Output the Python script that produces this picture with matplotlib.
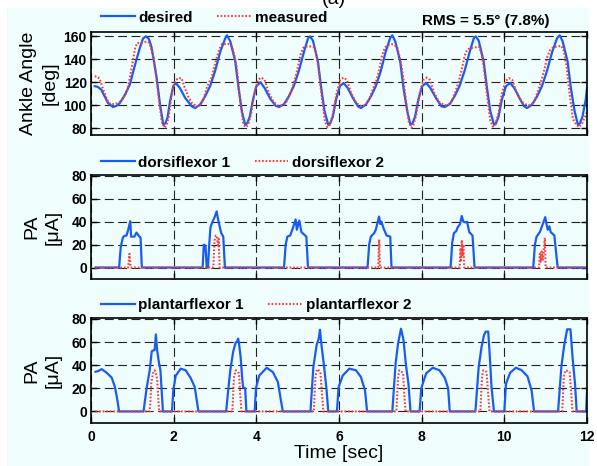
import matplotlib
matplotlib.use('Agg')
import matplotlib.pyplot as plt
from matplotlib.patches import Rectangle
from matplotlib.lines import Line2D

plt.rcParams['font.family'] = ['Liberation Sans', 'DejaVu Sans']

# ankle angle, desired (deg)
des_t = [0.09, 0.16, 0.25, 0.34, 0.41, 0.53, 0.62, 0.70, 0.82, 0.94, 1.02, 1.10, 1.18, 1.26, 1.33, 1.40, 1.46, 1.51,
         1.59, 1.67, 1.75, 1.80, 1.85, 1.91, 1.99, 2.05, 2.15, 2.28, 2.44, 2.52, 2.64, 2.76, 2.88, 3.00, 3.13, 3.25,
         3.29, 3.37, 3.49, 3.57, 3.65, 3.73, 3.78, 3.84, 3.92, 4.00, 4.10, 4.20, 4.33, 4.47, 4.55, 4.67, 4.79, 4.91,
         5.03, 5.15, 5.25, 5.30, 5.37, 5.49, 5.57, 5.65, 5.74, 5.79, 5.85, 5.93, 6.02, 6.11, 6.21, 6.34, 6.46, 6.53,
         6.65, 6.77, 6.89, 7.01, 7.13, 7.24, 7.29, 7.36, 7.48, 7.56, 7.65, 7.73, 7.78, 7.84, 7.92, 8.01, 8.11, 8.21,
         8.35, 8.48, 8.56, 8.68, 8.80, 8.92, 9.04, 9.16, 9.26, 9.31, 9.38, 9.50, 9.58, 9.66, 9.75, 9.80, 9.86, 9.94,
         10.04, 10.14, 10.24, 10.37, 10.48, 10.55, 10.67, 10.79, 10.91, 11.03, 11.16, 11.28, 11.34, 11.41, 11.53,
         11.61, 11.70, 11.78, 11.83, 11.89, 11.97, 12.0]
des_v = [116.5, 116.0, 113.5, 107, 102, 98.5, 99.5, 102, 109, 118, 129, 139.5, 149.5, 158, 159.7, 157.5, 151, 141,
         123.5, 100.5, 83, 84.5, 89, 103, 116.5, 119.3, 115, 106.3, 99, 97.6, 100.5, 107.7, 116.4, 129.4, 146.7, 158.2,
         160.6, 155.4, 138, 115, 94.7, 83, 84.5, 90, 105, 116.5, 120, 115, 106, 99.5, 98.5, 101, 108, 117,
         130, 146, 158, 159.7, 156, 138, 115, 95, 83, 84.5, 90, 105, 116.5, 119.3, 115, 106, 99, 97.6,
         100.5, 107.5, 116.5, 129.5, 146.5, 158.5, 160.6, 155.5, 138, 115, 95, 83, 84.5, 90, 105, 116.5, 119.3, 115,
         106, 99, 98.5, 101, 108, 117, 130, 146, 158, 159.7, 156, 138, 115, 95, 83, 84.5, 90, 105,
         116.5, 119.3, 115, 106, 99, 97.6, 100.5, 107.5, 116.5, 129.5, 146.5, 158.5, 160.6, 155.5, 138,
         115, 95, 83, 84.5, 90, 105, 115]

# ankle angle, measured (deg)
mes_t = [0.09, 0.14, 0.21, 0.30, 0.40, 0.47, 0.57, 0.66, 0.74, 0.86, 0.92, 0.97, 1.02, 1.07, 1.12, 1.22, 1.32, 1.38,
         1.44, 1.50, 1.55, 1.63, 1.71, 1.78, 1.83, 1.88, 1.95, 2.03, 2.11, 2.19, 2.27, 2.36, 2.44, 2.56, 2.64, 2.72,
         2.80, 2.86, 2.92, 2.98, 3.04, 3.11, 3.17, 3.25, 3.33, 3.41, 3.47, 3.53, 3.61, 3.69, 3.75, 3.80, 3.87, 3.95,
         4.04, 4.12, 4.20, 4.30, 4.40, 4.50, 4.58, 4.67, 4.75, 4.85, 4.93, 5.00, 5.07, 5.14, 5.20, 5.30, 5.38, 5.44,
         5.50, 5.58, 5.66, 5.72, 5.78, 5.85, 5.94, 6.03, 6.11, 6.19, 6.30, 6.42, 6.55, 6.63, 6.72, 6.82, 6.90, 6.97,
         7.04, 7.11, 7.18, 7.27, 7.34, 7.41, 7.48, 7.54, 7.62, 7.69, 7.75, 7.80, 7.87, 7.95, 8.04, 8.12, 8.20, 8.30,
         8.42, 8.55, 8.63, 8.72, 8.82, 8.90, 8.97, 9.04, 9.10, 9.17, 9.28, 9.38, 9.44, 9.50, 9.58, 9.66, 9.72, 9.78,
         9.85, 9.94, 10.03, 10.11, 10.19, 10.30, 10.42, 10.55, 10.63, 10.72, 10.82, 10.90, 10.97, 11.04, 11.11,
         11.18, 11.28, 11.38, 11.44, 11.50, 11.58, 11.66, 11.73, 11.80, 11.88, 12.0]
mes_v = [125, 125, 123, 113, 104, 101, 101, 102, 104, 111, 120, 130, 140, 150, 154, 154, 155, 155,
         151, 143, 132, 109, 86, 80.5, 83, 90, 109, 121, 123.5, 123.5, 115, 107, 102, 99, 100, 105,
         115, 120, 124, 133, 141, 149, 153, 153, 153, 151, 143, 132, 103, 83, 81, 83, 92, 110,
         122, 124, 122, 111, 104, 100, 99.5, 100.5, 104, 113, 122, 132, 144, 150, 151, 151, 151, 146,
         133, 108, 86, 81, 83, 92, 110, 122, 124, 122, 110, 102, 99, 100, 104, 114, 121, 130,
         143, 150, 152, 153, 152.5, 150, 140, 128, 104, 85, 80.5, 83, 92, 110, 122, 124, 122, 111,
         103, 100, 100, 103, 112, 121, 131, 143, 148, 149.5, 150, 151, 146, 134, 109, 87, 81.5, 83,
         92, 110, 121, 123.5, 122, 111, 103, 100, 100, 103, 113, 122, 131, 142, 148,
         150, 151, 151.5, 147, 135, 110, 88, 84, 81, 84, 94]

# dorsiflexor PA (uA)
df1_t = [0.11, 0.68, 0.72, 0.77, 0.80, 0.86, 0.90, 0.95, 0.97, 1.05, 1.10, 1.15, 1.20, 1.23,
         2.70, 2.73, 2.77, 2.80, 2.83, 2.86, 2.89, 2.94, 2.98, 3.04, 3.07, 3.10, 3.15, 3.20, 3.24,
         4.67, 4.71, 4.75, 4.82, 4.88, 4.95, 4.98, 5.04, 5.09, 5.18, 5.21, 5.25,
         6.69, 6.73, 6.77, 6.85, 6.89, 6.97, 7.00, 7.03, 7.07, 7.15, 7.24, 7.27,
         8.70, 8.74, 8.78, 8.84, 8.87, 8.93, 8.97, 9.01, 9.06, 9.10, 9.15, 9.23, 9.28,
         10.70, 10.74, 10.78, 10.86, 10.92, 10.99, 11.03, 11.05, 11.09, 11.12, 11.21, 11.29, 12.0]
df1_v = [0, 0, 18, 26, 27.5, 28, 33, 40.5, 27, 27, 30.5, 28, 26, 0,
         0, 20, 19, 0, 0, 20, 35, 40, 43, 49, 43, 38, 30, 27, 0,
         0, 20, 27, 28, 34, 42, 33, 41, 31, 28, 27, 0,
         0, 20, 27, 30, 33, 44.5, 38, 40, 35, 28, 27, 0,
         0, 22, 30, 32, 35, 38, 45, 40, 39.5, 40, 31, 28, 0,
         0, 20, 27, 31, 37, 44, 36, 33, 36, 31, 28, 0, 0]
df2_t = [0.11, 0.90, 0.93, 0.96, 2.96, 2.99, 3.02, 3.05, 3.07, 3.09, 3.11, 6.95, 6.97, 6.99,
         8.92, 8.94, 8.95, 8.97, 8.99, 9.01, 9.03, 10.84, 10.86, 10.88, 10.90, 10.93, 10.98, 11.00, 12.0]
df2_v = [0, 0, 12, 0, 0, 24, 28, 27, 18, 25, 0, 0, 24.5, 0,
         0, 17, 5, 24, 10, 20, 0, 0, 13.5, 5, 14, 6, 26, 0, 0]

# plantarflexor PA (uA)
pf1_t = [0.11, 0.18, 0.26, 0.38, 0.50, 0.58, 0.64, 0.68, 1.27, 1.35, 1.42, 1.47, 1.52, 1.54, 1.57, 1.60, 1.64, 1.68,
         1.74, 1.96, 1.99, 2.05, 2.17, 2.29, 2.41, 2.51, 2.60, 3.27, 3.31, 3.37, 3.44, 3.50, 3.53, 3.56, 3.58, 3.62,
         3.66, 3.68, 3.73, 3.76, 3.96, 3.99, 4.07, 4.25, 4.40, 4.52, 4.64, 5.31, 5.38, 5.46, 5.51, 5.54, 5.58, 5.64,
         5.70, 5.74, 5.95, 5.99, 6.09, 6.25, 6.41, 6.53, 6.63, 6.68, 7.29, 7.37, 7.43, 7.50, 7.56, 7.62, 7.68, 7.73,
         7.95, 7.99, 8.11, 8.27, 8.43, 8.56, 8.64, 8.68, 9.30, 9.38, 9.45, 9.51, 9.55, 9.61, 9.65, 9.69, 9.75,
         10.00, 10.04, 10.14, 10.28, 10.42, 10.56, 10.66, 10.72, 11.30, 11.38, 11.45, 11.52, 11.60, 11.65, 11.71,
         11.75, 11.98, 12.0]
pf1_v = [34.3, 35, 36.6, 33.4, 29.3, 21, 9.4, 0, 0, 21, 35.6, 52, 53, 53, 66.6, 53, 43, 35.6,
         0, 0, 18, 31, 37, 35.6, 29, 21, 0, 0, 15, 35.6, 51.8, 59.6, 60, 63, 59, 47,
         28, 21, 20, 0, 0, 20, 31, 37.8, 34, 25.6, 0, 0, 38.7, 57.6, 63, 70.6, 56, 38.7,
         18.3, 0, 0, 21, 31, 37, 35.6, 29.8, 18, 0, 0, 41.6, 59, 71.5, 62, 40, 24, 0,
         0, 20, 33, 37.8, 35.6, 29, 20, 0, 0, 38.7, 56, 66.2, 69, 69, 47, 21, 0,
         0, 24, 33.4, 37.8, 35.6, 30.4, 18, 0, 0, 38.7, 57.6, 71, 71, 47, 24,
         0, 0, 18]
pf2_t = [0.11, 1.42, 1.44, 1.46, 1.50, 1.54, 1.57, 1.60, 1.63, 1.65, 3.42, 3.44, 3.46, 3.50, 3.54, 3.58, 3.61, 3.64,
         5.39, 5.41, 5.43, 5.47, 5.51, 5.55, 5.59, 5.62, 7.39, 7.41, 7.43, 7.46, 7.50, 7.55, 7.58, 7.61,
         9.42, 9.44, 9.46, 9.49, 9.53, 9.57, 9.61, 9.64, 11.40, 11.42, 11.44, 11.48, 11.53, 11.58, 11.62, 11.65, 12.0]
pf2_v = [0, 0, 10, 25, 33, 35.6, 33, 28, 10, 0, 0, 15, 30, 35.6, 34.5, 33, 15, 0,
         0, 15, 30, 36.5, 35.5, 34, 15, 0, 0, 15, 30, 35.6, 34.5, 33.4, 15, 0,
         0, 15, 30, 35.6, 35, 34, 15, 0, 0, 15, 30, 35.6, 35, 34, 15, 0, 0]

blue = '#1a5cf0'
red = '#ff3a3a'
bg = '#effdfd'

fig = plt.figure(figsize=(5.97, 4.66), dpi=100, facecolor='white')
fig.patches.append(Rectangle((7 / 597, 0), 583 / 597, 458 / 466, transform=fig.transFigure,
                             facecolor=bg, edgecolor='none', zorder=-10))

boxes = [(91, 32, 135), (91, 175, 279), (91, 318, 423)]
axes = []
for (x0, top, bot) in boxes:
    ax = fig.add_axes([x0 / 597, 1 - bot / 466, 496 / 597, (bot - top) / 466])
    ax.set_facecolor(bg)
    axes.append(ax)

ax1, ax2, ax3 = axes

ax1.plot(des_t, des_v, color=blue, lw=1.6, label='desired')
ax1.plot(mes_t, mes_v, color=red, lw=1.5, ls=(0, (0.8, 0.9)), label='measured')
ax1.set_ylim(74.2, 163.5)
ax1.set_yticks([80, 100, 120, 140, 160])

ax2.plot(df1_t, df1_v, color=blue, lw=1.6, label='dorsiflexor 1')
ax2.plot(df2_t, df2_v, color=red, lw=1.5, ls=(0, (0.8, 0.9)), label='dorsiflexor 2')
ax2.set_ylim(-10, 80.8)

ax3.plot(pf1_t, pf1_v, color=blue, lw=1.6, label='plantarflexor 1')
ax3.plot(pf2_t, pf2_v, color=red, lw=1.5, ls=(0, (0.8, 0.9)), label='plantarflexor 2')
ax3.set_ylim(-10, 80.8)

for ax in (ax2, ax3):
    ax.set_yticks([0, 20, 40, 60, 80])

for ax in axes:
    ax.set_xlim(0, 12)
    ax.set_xticks([0, 2, 4, 6, 8, 10, 12])
    ax.grid(True, color='#222222', lw=0.8, ls=(0, (8, 4)))
    ax.tick_params(direction='in', length=4, width=1, top=True, right=True, labelsize=10, pad=3)
    for lab in ax.get_xticklabels() + ax.get_yticklabels():
        lab.set_fontweight('bold')
    for sp in ax.spines.values():
        sp.set_linewidth(1.2)
    ax.set_axisbelow(True)

ax1.tick_params(labelbottom=False)
ax2.tick_params(labelbottom=False)
ax3.tick_params(axis='x', pad=5)

leg_y = [1.14, 1.12, 1.12]
for ax, ly in zip(axes, leg_y):
    ax.legend(loc='center left', bbox_to_anchor=(0.02, ly), ncol=2, frameon=False,
              borderpad=0, borderaxespad=0, handlelength=2.2, handletextpad=0.25,
              columnspacing=1.6, prop={'weight': 'bold', 'size': 11})

ax1.set_ylabel('Ankle Angle\n[deg]', fontsize=14, linespacing=1.35, va='center')
ax1.yaxis.set_label_coords(-0.105, 0.5)
ax2.set_ylabel('PA\n[\u03bcA]', fontsize=14, linespacing=1.35, va='center')
ax2.yaxis.set_label_coords(-0.098, 0.5)
ax3.set_ylabel('PA\n[\u03bcA]', fontsize=14, linespacing=1.35, va='center')
ax3.yaxis.set_label_coords(-0.098, 0.5)
ax3.set_xlabel('Time [sec]', fontsize=14, labelpad=1)

fig.text(422 / 597, 1 - 21 / 466, 'RMS = 5.5\u00b0 (7.8%)', fontsize=11, fontweight='bold',
         ha='left', va='center')
fig.text(334 / 597, 1 - 3.5 / 466, '(a)', fontsize=14, ha='center', va='baseline')

fig.savefig('out.png', dpi=100, facecolor='white')
